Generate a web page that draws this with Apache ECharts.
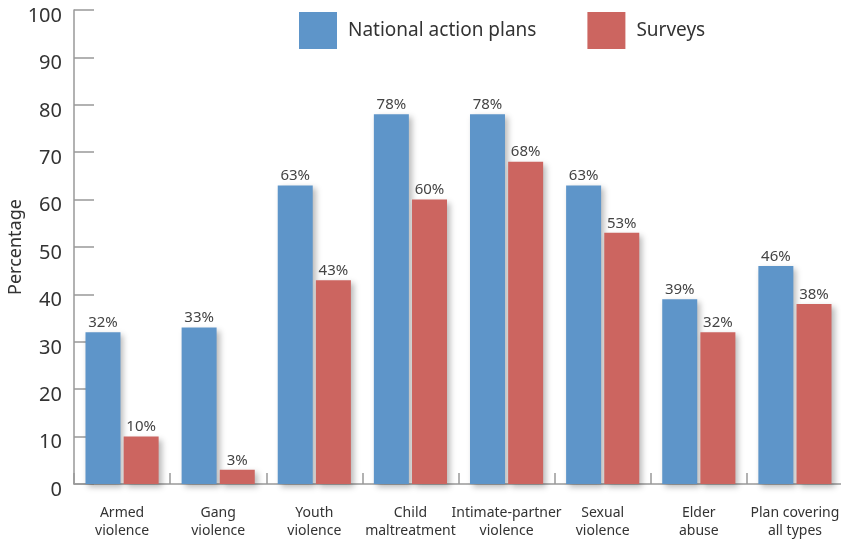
<!DOCTYPE html>
<html><head><meta charset="utf-8">
<script src="https://cdn.jsdelivr.net/npm/echarts@6/dist/echarts.min.js"></script>
<style>html,body{margin:0;padding:0;background:#fff}#c{width:841px;height:540px}</style>
</head><body><div id="c"></div>
<script>
const categories = ["Armed\nviolence","Gang\nviolence","Youth\nviolence","Child\nmaltreatment","Intimate-partner\nviolence","Sexual\nviolence","Elder\nabuse","Plan covering\nall types"];
const nationalActionPlans = [32,33,63,78,78,63,39,46];
const surveys = [10,3,43,60,68,53,32,38];
const seriesNames = ["National action plans","Surveys"];
const yTicks = {min:0,max:100,interval:10};

const FONT = '"Noto Sans", "Open Sans", sans-serif';
const shadow = {shadowBlur:6, shadowOffsetX:3, shadowOffsetY:3, shadowColor:'rgba(0,0,0,0.28)'};
const chart = echarts.init(document.getElementById('c'));
chart.setOption({
  animation:false,
  textStyle:{fontFamily:FONT},
  grid:{left:74,right:-2,top:10,bottom:56,containLabel:false,outerBoundsMode:'none'},
  legend:{
    top:12,left:299,padding:0,itemWidth:38,itemHeight:37,itemGap:51,
    icon:'rect',
    textStyle:{fontSize:19,color:'#333',fontFamily:FONT,padding:[2,0,0,6]},
    data:seriesNames
  },
  xAxis:{
    type:'category',data:categories,
    axisLine:{lineStyle:{color:'#999',width:1.5}},
    axisTick:{show:true,inside:true,length:11,lineStyle:{color:'#999',width:1.5},alignWithLabel:false},
    axisLabel:{fontSize:14,color:'#333',lineHeight:18,margin:20,interval:0,fontFamily:FONT}
  },
  yAxis:{
    type:'value',min:yTicks.min,max:yTicks.max,interval:yTicks.interval,
    name:'Percentage',nameLocation:'middle',nameGap:49,nameRotate:90,nameMoveOverlap:false,
    nameTextStyle:{fontSize:18,color:'#333',fontFamily:FONT},
    axisLine:{show:true,lineStyle:{color:'#999',width:1.5}},
    axisTick:{show:true,inside:true,length:20,lineStyle:{color:'#999',width:1.5}},
    splitLine:{show:false},
    axisLabel:{fontSize:20,color:'#333',margin:12,fontFamily:FONT,verticalAlign:'top',lineHeight:12}
  },
  series:[
    {name:seriesNames[0],type:'bar',data:nationalActionPlans,barWidth:35,barGap:'9%',
     itemStyle:Object.assign({color:'#5e95c9'},shadow),
     label:{show:true,position:'top',distance:2,formatter:'{c}%',fontSize:15,color:'#444',fontFamily:FONT}},
    {name:seriesNames[1],type:'bar',data:surveys,barWidth:35,
     itemStyle:Object.assign({color:'#cc6560'},shadow),
     label:{show:true,position:'top',distance:2,formatter:'{c}%',fontSize:15,color:'#444',fontFamily:FONT}}
  ]
});
</script></body></html>
